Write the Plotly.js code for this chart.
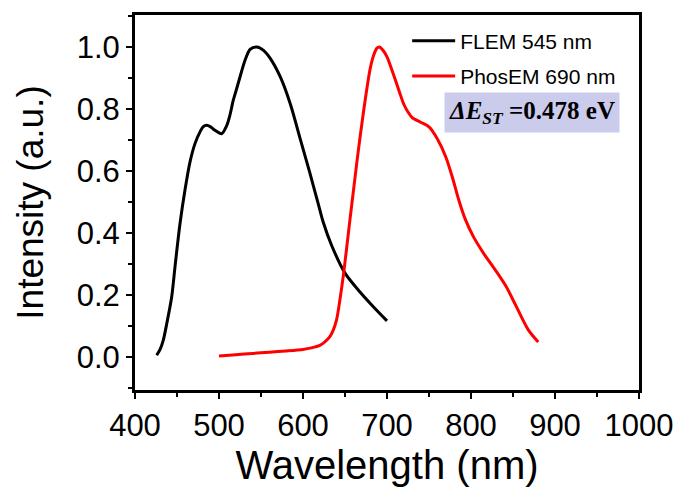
<!DOCTYPE html>
<html>
<head>
<meta charset="utf-8">
<script src="https://cdn.plot.ly/plotly-3.0.1.min.js"></script>
<style>
html,body{margin:0;padding:0;background:#fff;}
#chart{width:687px;height:487px;}
</style>
</head>
<body>
<div id="chart"></div>
<script>
// Fluorescence emission (FLEM)
const flWavelength = [425.8, 430, 433.7, 438, 443.7, 448, 453.6, 459.5, 465.5, 471.4, 477.4, 481, 485.3, 490, 495.2, 503.2, 509, 513, 517, 521, 525, 531, 537, 545, 553, 561, 573, 585, 597, 608, 618, 624, 634, 650, 666, 684, 700];
const flIntensity  = [0.005, 0.025, 0.054, 0.11, 0.194, 0.30, 0.43, 0.538, 0.629, 0.688, 0.726, 0.742, 0.747, 0.742, 0.731, 0.72, 0.745, 0.78, 0.828, 0.865, 0.903, 0.957, 0.992, 1.0, 0.989, 0.963, 0.903, 0.815, 0.70, 0.595, 0.495, 0.435, 0.36, 0.27, 0.215, 0.161, 0.116];

// Phosphorescence emission (PhosEM)
const phWavelength = [500, 520, 540, 560, 580, 600, 610, 620, 626, 632, 636, 640, 644, 648, 652, 656, 660, 664, 668, 672, 676, 680, 684, 688, 691, 695, 700, 705, 710, 715, 720, 725, 730, 740, 750, 760, 770, 778, 785, 793, 803, 815, 829, 842, 854, 868, 880];
const phIntensity  = [0.003, 0.007, 0.011, 0.015, 0.019, 0.024, 0.029, 0.037, 0.048, 0.065, 0.086, 0.12, 0.185, 0.262, 0.352, 0.445, 0.535, 0.625, 0.71, 0.79, 0.865, 0.93, 0.972, 0.996, 1.0, 0.99, 0.968, 0.932, 0.893, 0.853, 0.815, 0.79, 0.772, 0.757, 0.742, 0.703, 0.645, 0.578, 0.51, 0.445, 0.387, 0.334, 0.28, 0.226, 0.162, 0.088, 0.048];

const seriesNames = ["FLEM 545 nm", "PhosEM 690 nm"];
const gapLabel = "<b><i>ΔE<sub>ST</sub></i> =0.478 eV</b>";

const traces = [
  {x: flWavelength, y: flIntensity, type: "scatter", mode: "lines", name: seriesNames[0],
   legendgroup: "a", line: {color: "#000000", width: 3, shape: "spline", smoothing: 0.8}},
  {x: phWavelength, y: phIntensity, type: "scatter", mode: "lines", name: seriesNames[1],
   legendgroup: "b", line: {color: "#ff0000", width: 3, shape: "spline", smoothing: 0.8}}
];

const axisCommon = {
  showline: true, linecolor: "#000", linewidth: 3, mirror: true,
  ticks: "outside", ticklen: 6, tickwidth: 2.5, tickcolor: "#000",
  showgrid: false, zeroline: false,
  tickfont: {family: "Liberation Sans, Arial, sans-serif", size: 31, color: "#000"}
};

const layout = {
  width: 687, height: 487,
  margin: {l: 135, r: 48, t: 15, b: 97},
  paper_bgcolor: "#fff", plot_bgcolor: "#fff",
  showlegend: true,
  legend: {x: 0.54, y: 0.985, xanchor: "left", yanchor: "top",
    bgcolor: "rgba(0,0,0,0)", borderwidth: 0, tracegroupgap: 5, itemwidth: 43,
    font: {family: "Liberation Sans, Arial, sans-serif", size: 21, color: "#000"}},
  xaxis: Object.assign({}, axisCommon, {
    range: [400, 1000], dtick: 100, tick0: 400,
    minor: {dtick: 50, ticks: "outside", ticklen: 4, tickwidth: 2.5, tickcolor: "#000"},
    title: {text: "Wavelength (nm)", font: {family: "Liberation Sans, Arial, sans-serif", size: 40, color: "#000"}, standoff: 6}
  }),
  yaxis: Object.assign({}, axisCommon, {
    range: [-0.107, 1.103], dtick: 0.2, tick0: 0, tickformat: ".1f",
    minor: {dtick: 0.1, ticks: "outside", ticklen: 4, tickwidth: 2.5, tickcolor: "#000"},
    title: {text: "Intensity (a.u.)", font: {family: "Liberation Sans, Arial, sans-serif", size: 37, color: "#000"}, standoff: 22}
  }),
  annotations: [{
    x: 873, y: 0.79, xref: "x", yref: "y", text: gapLabel, showarrow: false,
    font: {family: "Liberation Serif, Times New Roman, serif", size: 25, color: "#000"},
    bgcolor: "#cbcbec", borderpad: 4
  }]
};

Plotly.newPlot("chart", traces, layout, {displayModeBar: false, staticPlot: true});
</script>
</body>
</html>
